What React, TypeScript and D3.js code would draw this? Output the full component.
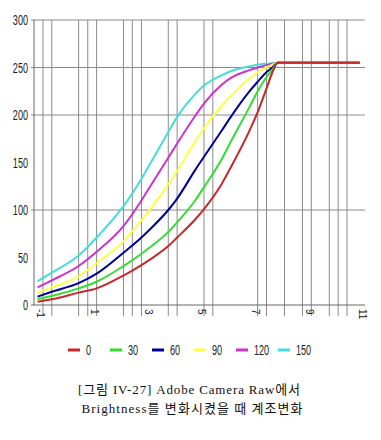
import React from "react";
import * as d3 from "d3";

const xValues = [-1.2, -0.67, 0.33, 1, 2, 2.67, 3, 3.67, 4, 4.67, 5, 5.67, 6, 6.67, 7, 7.33, 7.55, 7.75, 10.8];
const series0 = [3.5, 6, 13, 17.5, 31, 42, 48, 62, 71, 90, 101, 128, 145, 182, 203, 228, 245, 255, 255];
const series30 = [6.3, 9.5, 17.5, 24.5, 41, 54, 61, 77, 87, 110, 124, 154, 172, 207, 225, 240, 248, 255, 255];
const series60 = [8.8, 14, 23, 33, 55, 71, 80, 100, 112, 142, 156, 184, 198, 224, 235, 245, 250, 255, 255];
const series90 = [13, 18.6, 30, 44, 67, 89, 101, 127, 141, 172, 186, 210, 220, 238, 245, 250, 253, 255, 255];
const series120 = [18.6, 26, 41, 56, 83, 110, 125, 155, 170, 199, 212, 232, 239, 247, 250, 252.5, 254, 255, 255];
const series150 = [25, 34, 52, 71, 104, 133, 149, 182, 198, 222, 231, 242, 246, 251, 253, 254, 254.5, 255, 255];

const seriesNames = ["0", "30", "60", "90", "120", "150"];
const seriesColors = ["#c8282a", "#33dd33", "#000099", "#ffff44", "#cc33cc", "#44dddd"];
const seriesData = [series0, series30, series60, series90, series120, series150];

const xGrid = [-1, -0.67, 0.33, 0.67, 1, 2, 2.33, 2.67, 3.67, 4, 5, 5.33, 7, 7.33, 8, 8.67, 9, 9.67, 10, 10.33];
const xTickLabels = [-1, 1, 3, 5, 7, 9, 11];
const yTickLabels = [0, 50, 100, 150, 200, 250, 300];
const yGrid = [100, 200, 250, 300];

const caption1 = "[그림 IV-27] Adobe Camera Raw에서";
const caption2 = "Brightness를 변화시켰을 때 계조변화";

export default function App() {
  const x = d3.scaleLinear().domain([-4 / 3, 11]).range([34, 365]);
  const y = d3.scaleLinear().domain([0, 300]).range([305, 20]);
  const line = d3
    .line<number>()
    .x((_, i) => x(xValues[i]))
    .y((d) => y(d))
    .curve(d3.curveMonotoneX);

  const narrow = "'Liberation Sans', Arial, sans-serif";
  const order = [5, 4, 3, 2, 1, 0];

  return (
    <svg
      width={381}
      height={440}
      style={{ position: "absolute", left: 0, top: 0, background: "#fff" }}
    >
      <rect x={0} y={0} width={381} height={440} fill="#fff" />
      {/* horizontal gridlines */}
      {yGrid.map((t) => (
        <line key={"h" + t} x1={31} x2={x(11)} y1={y(t)} y2={y(t)} stroke="#8a8a8a" strokeWidth={1} />
      ))}
      {yTickLabels.map((t) => (
        <text
          key={"yl" + t}
          transform={`translate(28,${y(t) + 5}) scale(0.65,1)`}
          textAnchor="end"
          fontFamily={narrow}
          fontSize={14}
          fill="#222"
        >
          {t}
        </text>
      ))}
      {/* vertical gridlines */}
      {xGrid.map((g) => (
        <line key={"v" + g} x1={x(g)} x2={x(g)} y1={y(300)} y2={316} stroke="#8a8a8a" strokeWidth={1} />
      ))}
      {/* axes */}
      <line x1={34} x2={34} y1={y(300)} y2={y(0)} stroke="#666" strokeWidth={1} />
      <line x1={31} x2={x(11)} y1={y(0)} y2={y(0)} stroke="#666" strokeWidth={1} />
      {xTickLabels.map((t) => (
        <text
          key={"xl" + t}
          transform={`translate(${x(t) - 3},309) rotate(90)`}
          dominantBaseline="middle"
          fontFamily={narrow}
          fontSize={10}
          fill="#222"
        >
          {t}
        </text>
      ))}
      {/* series */}
      {order.map((i) => (
        <path
          key={"s" + i}
          d={line(seriesData[i]) || ""}
          fill="none"
          stroke={seriesColors[i]}
          strokeWidth={2}
          strokeLinejoin="round"
        />
      ))}
      {/* legend */}
      {seriesNames.map((n, i) => (
        <g key={"lg" + n}>
          <line x1={68 + i * 42} x2={80 + i * 42} y1={350} y2={350} stroke={seriesColors[i]} strokeWidth={3} />
          <text
            transform={`translate(${86 + i * 42},355) scale(0.65,1)`}
            fontFamily={narrow}
            fontSize={14}
            fill="#222"
          >
            {n}
          </text>
        </g>
      ))}
      {/* caption */}
      <text
        x={189}
        y={394}
        textAnchor="middle"
        fontFamily="'Liberation Serif', 'Noto Sans CJK KR', serif"
        fontSize={13}
        textLength={222}
        lengthAdjust="spacing"
        fill="#111"
      >
        {caption1}
      </text>
      <text
        x={192}
        y={413}
        textAnchor="middle"
        fontFamily="'Liberation Serif', 'Noto Sans CJK KR', serif"
        fontSize={13}
        textLength={221}
        lengthAdjust="spacing"
        fill="#111"
      >
        {caption2}
      </text>
    </svg>
  );
}
